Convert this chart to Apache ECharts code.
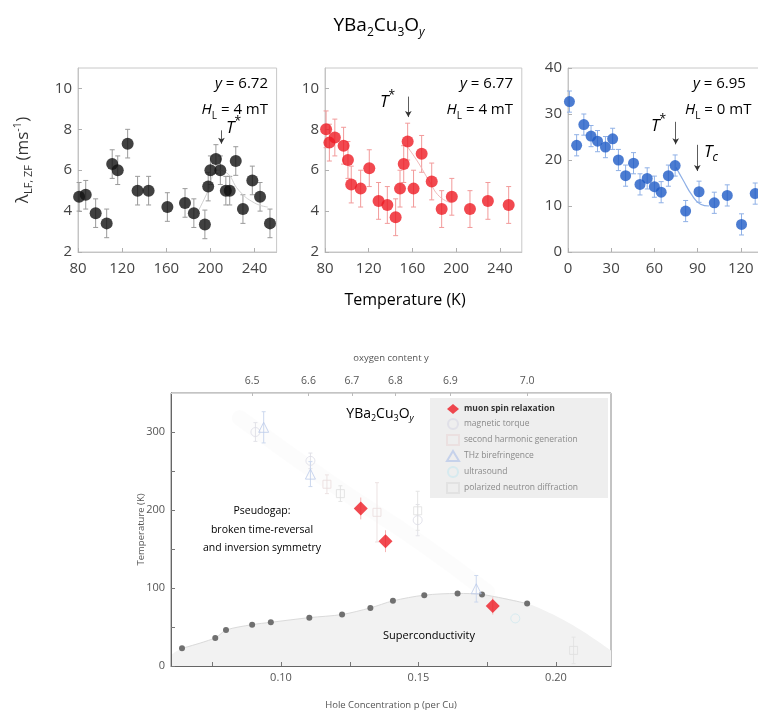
<!DOCTYPE html>
<html><head><meta charset="utf-8">
<script src="https://cdn.jsdelivr.net/npm/echarts@6/dist/echarts.min.js"></script>
<style>html,body{margin:0;padding:0;background:#fff}#c{width:758px;height:711px}</style>
</head><body><div id="c"></div>
<script>
// ---------- top panels data ----------
const t1 = [81, 87, 96, 106, 111, 116, 125, 134, 144, 161, 177, 185, 195, 198, 200, 205, 209, 214, 217.5, 223, 229.5, 238, 245, 254];
const l1 = [4.7, 4.8, 3.9, 3.4, 6.3, 6.0, 7.3, 5.0, 5.0, 4.2, 4.4, 3.9, 3.35, 5.2, 6.0, 6.55, 6.0, 5.0, 5.0, 6.45, 4.1, 5.5, 4.7, 3.4];
const e1 = 0.7;
const fit1T = [188, 198, 206, 214, 226, 240, 252];
const fit1L = [3.9, 5.0, 6.0, 5.9, 5.0, 4.4, 4.2];

const t2 = [81, 84, 89, 97, 101, 104, 112.6, 120.5, 129, 137, 144.6, 148.6, 152, 155.6, 161, 168.4, 177.6, 186.7, 196, 212.6, 229, 248];
const l2 = [8.0, 7.35, 7.6, 7.2, 6.5, 5.3, 5.1, 6.1, 4.5, 4.3, 3.7, 5.1, 6.3, 7.4, 5.1, 6.8, 5.45, 4.1, 4.7, 4.1, 4.5, 4.3];
const e2 = 0.9;
const fit2T = [156, 165, 175, 185, 196];
const fit2L = [7.1, 6.4, 5.5, 4.7, 4.4];

const t3 = [1, 6, 11, 16, 20.5, 26, 31, 35, 40, 45.5, 50, 55, 60, 64.7, 69.7, 74.4, 81.7, 91, 101.6, 110.6, 120.5, 130];
const l3 = [32.7, 23.2, 27.7, 25.2, 24.1, 22.8, 24.6, 20.0, 16.6, 19.3, 14.7, 16.0, 14.2, 13.0, 16.6, 18.8, 8.9, 13.1, 10.7, 12.3, 6.0, 12.7];
const e3 = 2.3;
const fit3T = [75, 80, 86, 92, 98];
const fit3L = [18.4, 15.6, 12.4, 10.4, 10.0];

const xTicks12 = [80, 120, 160, 200, 240];
const yTicks12 = [2, 4, 6, 8, 10];
const xTicks3 = [0, 30, 60, 90, 120, 150];
const yTicks3 = [0, 10, 20, 30, 40];

// arrows: [x, yFrom, yTo]
const arrow1 = [210, 7.95, 7.3];
const arrow2 = [156.2, 9.6, 8.6];
const arrow3a = [74.8, 28.3, 23.4];
const arrow3b = [89.8, 23.3, 17.6];

// ---------- bottom panel data ----------
const muP = [0.129, 0.138, 0.177];
const muT = [202, 160, 77];
const muErr = [14, 14, 11];
const tcP = [0.064, 0.0761, 0.080, 0.0895, 0.0963, 0.1103, 0.1222, 0.1325, 0.1407, 0.1521, 0.1642, 0.1731, 0.1895];
const tcT = [22.6, 36, 46, 53, 56, 62, 66, 74.5, 83.5, 90.8, 93, 91.7, 80];
const domeP = [0.06, 0.064, 0.0761, 0.080, 0.0895, 0.0963, 0.1103, 0.1222, 0.1325, 0.1407, 0.1521, 0.1642, 0.1731, 0.1895, 0.200, 0.210, 0.220];
const domeT = [14, 22.6, 36, 46, 53, 56, 62, 66, 74.5, 83.5, 90.8, 93, 91.7, 80, 64, 44, 20];
const bandP = [0.085, 0.12, 0.15, 0.175];
const bandT = [318, 230, 160, 95];
const torqueP = [0.0907, 0.1107, 0.1497];
const torqueT = [300, 263, 187];
const torqueErr = [12, 10, 20];
const shgP = [0.1167, 0.1349];
const shgT = [233, 197];
const shgErr = [12, 38];
const thzP = [0.0937, 0.1107, 0.171];
const thzT = [306, 246, 99];
const thzErr = [20, 16, 17];
const usP = [0.1852];
const usT = [61];
const pndP = [0.1216, 0.1497, 0.2064];
const pndT = [221, 199, 20];
const pndErr = [10, 25, 17];
const pTicks = [0.10, 0.15, 0.20];
const pMinor = [0.075, 0.10, 0.125, 0.15, 0.175, 0.20];
const tTicks = [0, 100, 200, 300];
const tMinor = [0, 50, 100, 150, 200, 250, 300];
const oxyP = [0.0895, 0.110, 0.1258, 0.1416, 0.1616, 0.1895];
const oxyLabels = ['6.5', '6.6', '6.7', '6.8', '6.9', '7.0'];
const legendNames = ['muon spin relaxation', 'magnetic torque', 'second harmonic generation', 'THz birefringence', 'ultrasound', 'polarized neutron diffraction'];

const FONT = '"Open Sans", "Noto Sans", sans-serif';
const zip = (a, b) => a.map((v, i) => [v, b[i]]);
const zip3 = (a, b, c) => a.map((v, i) => [v, b[i], Array.isArray(c) ? c[i] : c]);

function errSeries(xi, yi, data, color, cap) {
  return {
    type: 'custom', xAxisIndex: xi, yAxisIndex: yi, silent: true, z: 1,
    data: data,
    renderItem: function (params, api) {
      const x = api.value(0), y = api.value(1), e = api.value(2);
      const lo = api.coord([x, y - e]), hi = api.coord([x, y + e]);
      const ch = [];
      ch.push({ type: 'line', shape: { x1: lo[0], y1: lo[1], x2: hi[0], y2: hi[1] }, style: { stroke: color, lineWidth: 1 } });
      if (cap) {
        ch.push({ type: 'line', shape: { x1: lo[0] - cap, y1: lo[1], x2: lo[0] + cap, y2: lo[1] }, style: { stroke: color, lineWidth: 1 } });
        ch.push({ type: 'line', shape: { x1: hi[0] - cap, y1: hi[1], x2: hi[0] + cap, y2: hi[1] }, style: { stroke: color, lineWidth: 1 } });
      }
      return { type: 'group', children: ch };
    }
  };
}

function arrowLine(a) {
  return [{ coord: [a[0], a[1]] }, { coord: [a[0], a[2]] }];
}

function xAx(gi, min, max, ticks, margin) {
  return {
    type: 'value', gridIndex: gi, min: min, max: max,
    axisLine: { show: true, lineStyle: { color: '#c4c4c4' } },
    splitLine: { show: false },
    axisLabel: { color: '#444', fontSize: 15, fontFamily: FONT, margin: margin, customValues: ticks },
    axisTick: { inside: true, length: 4, lineStyle: { color: '#b0b0b0' }, customValues: ticks }
  };
}
function yAx(gi, min, max, ticks) {
  return {
    type: 'value', gridIndex: gi, min: min, max: max,
    axisLine: { show: true, lineStyle: { color: '#c4c4c4' } },
    splitLine: { show: false },
    axisLabel: { color: '#444', fontSize: 15, fontFamily: FONT, margin: 6, customValues: ticks },
    axisTick: { inside: true, length: 4, lineStyle: { color: '#b0b0b0' }, customValues: ticks }
  };
}

const subRich = (n, s, pad) => ({
  n: { fontSize: n, fontFamily: FONT, color: '#333' },
  i: { fontSize: n, fontFamily: FONT, color: '#333', fontStyle: 'italic' },
  s: { fontSize: s, fontFamily: FONT, color: '#333', padding: [pad, 0, 0, 0] },
  si: { fontSize: s, fontFamily: FONT, color: '#333', fontStyle: 'italic', padding: [pad, 0, 0, 0] },
  p: { fontSize: s, fontFamily: FONT, color: '#333', padding: [0, 0, pad, 0] }
});

function txt(x, y, text, rich, align) {
  return {
    type: 'text', x: x, y: y, silent: true, z: 100,
    style: { text: text, rich: rich, align: align || 'left', verticalAlign: 'middle', textAlign: align || 'left', textVerticalAlign: 'middle' }
  };
}

const bottomTextColor = '#555';
const gridBase = { show: true, borderWidth: 1, outerBoundsMode: 'none', containLabel: false };

const option = {
  animation: false,
  backgroundColor: '#fff',
  grid: [
    Object.assign({ left: 78, top: 68, width: 198.6, height: 184, borderColor: '#c8c8c8' }, gridBase),
    Object.assign({ left: 325, top: 68, width: 196.8, height: 184, borderColor: '#c8c8c8' }, gridBase),
    Object.assign({ left: 568, top: 68, width: 216, height: 184, borderColor: '#c8c8c8' }, gridBase),
    Object.assign({ left: 171, top: 393, width: 440, height: 273, borderColor: '#888' }, gridBase)
  ],
  xAxis: [
    xAx(0, 80, 260, xTicks12, 9),
    xAx(1, 80, 260, xTicks12, 9),
    xAx(2, 0, 150, xTicks3, 9),
    {
      type: 'value', gridIndex: 3, min: 0.06, max: 0.22, position: 'bottom',
      axisLine: { show: true, lineStyle: { color: '#666' } },
      axisTick: { inside: true, length: 4, lineStyle: { color: '#777' }, customValues: pMinor },
      splitLine: { show: false },
      axisLabel: { color: bottomTextColor, fontSize: 11, fontFamily: FONT, margin: 6, customValues: pTicks, formatter: v => v.toFixed(2) },
      name: 'Hole Concentration p (per Cu)', nameLocation: 'middle', nameGap: 34, nameMoveOverlap: false,
      nameTextStyle: { color: bottomTextColor, fontSize: 9.5, fontFamily: FONT }
    },
    {
      type: 'value', gridIndex: 3, min: 0.06, max: 0.22, position: 'top',
      axisLine: { show: true, lineStyle: { color: '#d6d6d6' } },
      axisTick: { inside: true, length: 3, lineStyle: { color: '#bbb' }, customValues: oxyP },
      splitLine: { show: false },
      axisLabel: { color: bottomTextColor, fontSize: 10.5, fontFamily: FONT, margin: 6, customValues: oxyP, formatter: v => oxyLabels[oxyP.indexOf(v)] },
      name: 'oxygen content y', nameLocation: 'middle', nameGap: 30,
      nameTextStyle: { color: bottomTextColor, fontSize: 9.5, fontFamily: FONT }
    }
  ],
  yAxis: [
    Object.assign(yAx(0, 2, 11, yTicks12), {
      name: '{n|λ}{s|LF, ZF}{n| (ms}{p|-1}{n|)}', nameLocation: 'middle', nameGap: 44, nameRotate: 90,
      nameTextStyle: { rich: subRich(17, 11, 11) }
    }),
    yAx(1, 2, 11, yTicks12),
    yAx(2, 0, 40, yTicks3),
    {
      type: 'value', gridIndex: 3, min: 0, max: 350,
      axisLine: { show: true, lineStyle: { color: '#666' } },
      axisTick: { inside: true, length: 4, lineStyle: { color: '#777' }, customValues: tMinor },
      splitLine: { show: false },
      axisLabel: { color: bottomTextColor, fontSize: 11, fontFamily: FONT, margin: 6, customValues: tTicks },
      name: 'Temperature (K)', nameLocation: 'middle', nameGap: 25, nameRotate: 90, nameMoveOverlap: false,
      nameTextStyle: { color: bottomTextColor, fontSize: 9.5, fontFamily: FONT }
    }
  ],
  legend: {
    data: [
      { name: legendNames[0], textStyle: { color: '#333', fontWeight: 'bold' } },
      legendNames[1], legendNames[2], legendNames[3], legendNames[4], legendNames[5]
    ],
    orient: 'vertical', left: 430, top: 398,
    backgroundColor: '#eeeeee', padding: [6, 30, 4, 16],
    itemWidth: 12, itemHeight: 10, itemGap: 4,
    textStyle: { color: '#8a8a8a', fontSize: 8.5, fontFamily: FONT },
    selectedMode: false
  },
  series: [
    // ----- panel 1 -----
    { type: 'line', xAxisIndex: 0, yAxisIndex: 0, data: zip(fit1T, fit1L), smooth: true, showSymbol: false, silent: true, lineStyle: { color: '#d0d0d0', width: 1 }, z: 1 },
    errSeries(0, 0, zip3(t1, l1, e1), '#9a9a9a', 2.5),
    {
      type: 'scatter', xAxisIndex: 0, yAxisIndex: 0, data: zip(t1, l1), symbolSize: 12,
      itemStyle: { color: '#111' }, z: 3,
      markLine: { silent: true, symbol: ['none', 'arrow'], symbolSize: [5, 6], lineStyle: { color: '#333', width: 0.8, type: 'solid' }, label: { show: false }, data: [arrowLine(arrow1)] }
    },
    // ----- panel 2 -----
    { type: 'line', xAxisIndex: 1, yAxisIndex: 1, data: zip(fit2T, fit2L), smooth: true, showSymbol: false, silent: true, lineStyle: { color: '#f2b8b8', width: 1 }, z: 1 },
    errSeries(1, 1, zip3(t2, l2, e2), '#f29a9a', 2.5),
    {
      type: 'scatter', xAxisIndex: 1, yAxisIndex: 1, data: zip(t2, l2), symbolSize: 12,
      itemStyle: { color: '#ee1c24' }, z: 3,
      markLine: { silent: true, symbol: ['none', 'arrow'], symbolSize: [5, 6], lineStyle: { color: '#333', width: 0.8, type: 'solid' }, label: { show: false }, data: [arrowLine(arrow2)] }
    },
    // ----- panel 3 -----
    { type: 'line', xAxisIndex: 2, yAxisIndex: 2, data: zip(fit3T, fit3L), smooth: true, showSymbol: false, silent: true, lineStyle: { color: '#8fb0e6', width: 1.2 }, z: 1 },
    errSeries(2, 2, zip3(t3, l3, e3), '#8fb0e6', 2.5),
    {
      type: 'scatter', xAxisIndex: 2, yAxisIndex: 2, data: zip(t3, l3), symbolSize: 11,
      itemStyle: { color: '#1f5bc6' }, z: 3,
      markLine: { silent: true, symbol: ['none', 'arrow'], symbolSize: [5, 6], lineStyle: { color: '#333', width: 0.8, type: 'solid' }, label: { show: false }, data: [arrowLine(arrow3a), arrowLine(arrow3b)] }
    },
    // ----- bottom panel -----
    { type: 'line', xAxisIndex: 3, yAxisIndex: 3, data: zip(domeP, domeT), smooth: 0.3, showSymbol: false, silent: true, lineStyle: { width: 0 }, areaStyle: { color: '#f2f2f2', opacity: 1 }, z: 0 },
    { type: 'line', xAxisIndex: 3, yAxisIndex: 3, data: zip(bandP, bandT), smooth: true, showSymbol: false, silent: true, lineStyle: { width: 16, color: 'rgba(0,0,0,0.012)', cap: 'round' }, z: 0 },
    { type: 'line', xAxisIndex: 3, yAxisIndex: 3, data: zip(tcP, tcT), smooth: 0.3, symbol: 'circle', symbolSize: 6, silent: true, itemStyle: { color: '#707070' }, lineStyle: { color: '#dadada', width: 1 }, z: 2 },
    errSeries(3, 3, zip3(torqueP, torqueT, torqueErr), '#e2e2e8', 2),
    errSeries(3, 3, zip3(shgP, shgT, shgErr), '#ece2e2', 2),
    errSeries(3, 3, zip3(thzP, thzT, thzErr), '#ccd8ee', 2),
    errSeries(3, 3, zip3(pndP, pndT, pndErr), '#e4e4e4', 2),
    errSeries(3, 3, zip3(muP, muT, muErr), '#f6b4b4', 0),
    { name: legendNames[1], type: 'scatter', xAxisIndex: 3, yAxisIndex: 3, data: zip(torqueP, torqueT), symbol: 'circle', symbolSize: 9, itemStyle: { color: 'rgba(255,255,255,0)', borderColor: '#dcdce6', borderWidth: 1 }, z: 3 },
    { name: legendNames[2], type: 'scatter', xAxisIndex: 3, yAxisIndex: 3, data: zip(shgP, shgT), symbol: 'rect', symbolSize: 8, itemStyle: { color: 'rgba(255,255,255,0)', borderColor: '#eadcdc', borderWidth: 1 }, z: 3 },
    { name: legendNames[3], type: 'scatter', xAxisIndex: 3, yAxisIndex: 3, data: zip(thzP, thzT), symbol: 'triangle', symbolSize: 10, itemStyle: { color: 'rgba(255,255,255,0)', borderColor: '#bccbea', borderWidth: 1 }, z: 3 },
    { name: legendNames[4], type: 'scatter', xAxisIndex: 3, yAxisIndex: 3, data: zip(usP, usT), symbol: 'circle', symbolSize: 9, itemStyle: { color: 'rgba(255,255,255,0)', borderColor: '#cfe8ef', borderWidth: 1 }, z: 3 },
    { name: legendNames[5], type: 'scatter', xAxisIndex: 3, yAxisIndex: 3, data: zip(pndP, pndT), symbol: 'rect', symbolSize: 8, itemStyle: { color: 'rgba(255,255,255,0)', borderColor: '#dedede', borderWidth: 1 }, z: 3 },
    { name: legendNames[0], type: 'scatter', xAxisIndex: 3, yAxisIndex: 3, data: zip(muP, muT), symbol: 'diamond', symbolSize: 14, itemStyle: { color: '#ee1c24' }, z: 4 }
  ],
  graphic: [
    txt(379, 26, '{n|YBa}{s|2}{n|Cu}{s|3}{n|O}{si|y}', subRich(19, 12, 13), 'center'),
    txt(405, 300, '{n|Temperature (K)}', { n: { fontSize: 16, fontFamily: FONT, color: '#555' } }, 'center'),
    // panel 1 annotations
    txt(268, 84, '{i|y}{n| = 6.72}', subRich(15, 10, 10), 'right'),
    txt(268, 110, '{i|H}{s|L}{n| = 4 mT}', subRich(15, 10, 12), 'right'),
    txt(226, 128, '{i|T}{p|*}', subRich(17, 12, 12), 'left'),
    // panel 2 annotations
    txt(513, 84, '{i|y}{n| = 6.77}', subRich(15, 10, 10), 'right'),
    txt(513, 110, '{i|H}{s|L}{n| = 4 mT}', subRich(15, 10, 12), 'right'),
    txt(380, 102, '{i|T}{p|*}', subRich(17, 12, 12), 'left'),
    // panel 3 annotations
    txt(693, 84, '{i|y}{n| = 6.95}', subRich(15, 10, 10), 'left'),
    txt(685, 110, '{i|H}{s|L}{n| = 0 mT}', subRich(15, 10, 12), 'left'),
    txt(651, 126, '{i|T}{p|*}', subRich(17, 12, 12), 'left'),
    txt(704, 152, '{i|T}{si|c}', subRich(17, 12, 12), 'left'),
    // bottom panel texts
    txt(380, 414, '{n|YBa}{s|2}{n|Cu}{s|3}{n|O}{si|y}', subRich(14, 9, 9), 'center'),
    txt(262, 530, '{n|Pseudogap:}\n{n|broken time-reversal}\n{n|and inversion symmetry}', { n: { fontSize: 10.5, fontFamily: FONT, color: '#444', lineHeight: 18.5, align: 'center' } }, 'center'),
    txt(429, 636, '{n|Superconductivity}', { n: { fontSize: 11, fontFamily: FONT, color: '#333' } }, 'center')
  ]
};

const chart = echarts.init(document.getElementById('c'), null, { renderer: 'canvas' });
chart.setOption(option);
</script>
</body></html>
